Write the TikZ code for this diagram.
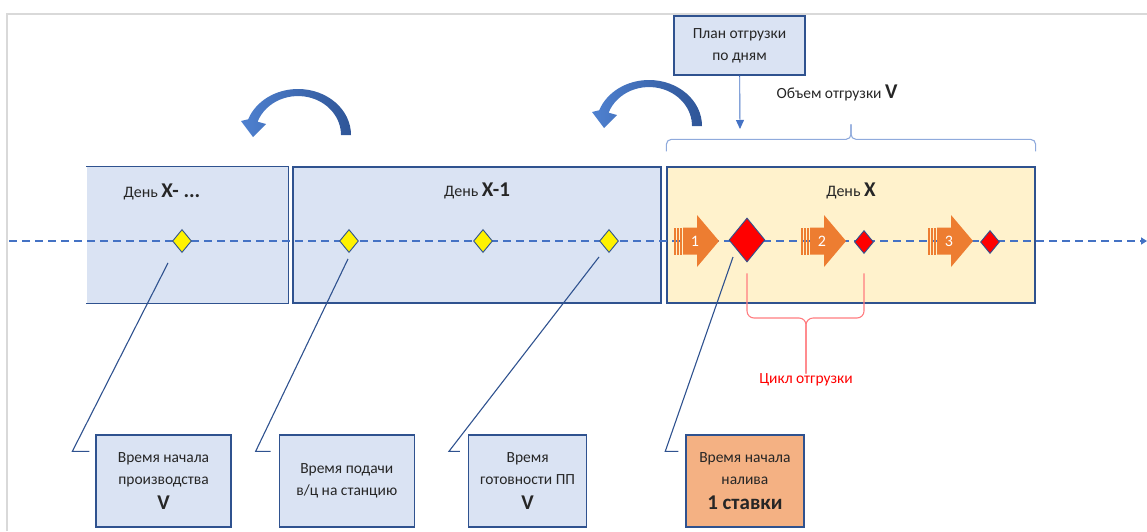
\documentclass[tikz,border=0pt]{standalone}
\usepackage{fontspec}
\setmainfont{Carlito}
\usepackage{xcolor}
\usetikzlibrary{arrows.meta,positioning,calc,shapes.geometric}

\definecolor{boxblue}{HTML}{DAE3F3}
\definecolor{boxline}{HTML}{2F528F}
\definecolor{dayyellow}{HTML}{FFF2CC}
\definecolor{pourorange}{HTML}{F4B183}
\definecolor{steporange}{HTML}{ED7D31}
\definecolor{lineblue}{HTML}{4472C4}
\definecolor{bracelight}{HTML}{8FAADC}
\definecolor{bracered}{HTML}{FF7C80}
\definecolor{turnlight}{HTML}{4F81D0}
\definecolor{turndark}{HTML}{2F5597}
\definecolor{framegray}{HTML}{D9D9D9}

\newcommand{\notefont}{\fontsize{15.5}{22}\selectfont}
\newcommand{\bv}[1]{{\fontsize{21}{24}\selectfont\bfseries #1}}

\tikzset{%
  % boxes
  card/.style={draw=boxline, line width=1.3pt, align=center, inner sep=4pt, font=\notefont, text=black!85},
  day/.style={card, fill=boxblue, minimum height=136pt},
  note/.style={card, fill=boxblue, minimum height=92pt},
  title/.style={font=\fontsize{16}{19}\selectfont, text=black!85, inner sep=0pt},
  lbl/.style={font=\notefont, text=black!85, inner sep=0pt},
  daysides/.style={draw=boxline, line width=1.3pt},
  % marks on the time line
  ymark/.style={diamond, draw=boxline, line width=0.9pt, fill=yellow, minimum width=19pt, minimum height=23pt, inner sep=0pt},
  rmark/.style={ymark, fill=red},
  stepnum/.style={font=\fontsize{16}{19}\selectfont, text=white, inner sep=0pt},
  turnfill/.style={left color=turnlight, right color=turndark},
  % edge styles
  timeline/.style={draw=lineblue, line width=2.2pt, dash pattern=on 8pt off 5pt, -{Triangle[length=6pt,width=7pt]}},
  callout/.style={draw=boxline, line width=1.1pt},
  planarrow/.style={draw=lineblue, line width=0.9pt, -{Triangle[length=9pt,width=8pt]}},
  topbrace/.style={draw=bracelight, line width=1.1pt, rounded corners=5pt},
  cyclebrace/.style={draw=bracered, line width=1.1pt, rounded corners=7pt},
}

\newcommand{\pourstep}[3]{%
  % #1 = tail point, #2 = node name, #3 = number
  \fill[steporange] ([shift={(0,-13.5)}]#1) -- ++(14,0) -- ++(0,-12.5) -- ++(22,26) -- ++(-22,26) -- ++(0,-12.5) -- ++(-14,0) -- cycle;
  \fill[steporange] ([shift={(-9,-13.5)}]#1) rectangle ++(1.6,27);
  \fill[steporange] ([shift={(-6,-13.5)}]#1) rectangle ++(1.6,27);
  \fill[steporange] ([shift={(-3,-13.5)}]#1) rectangle ++(1.6,27);
  \node[stepnum] (#2) at ([shift={(12,0)}]#1) {#3};
}
\newcommand{\turnback}[1]{%
  % #1 = centre of the arc
  \shade[turnfill] ([shift={(53,0)}]#1) arc[start angle=0, end angle=-160, x radius=53, y radius=46]
    -- ([shift={(-57,-14)}]#1) -- ([shift={(-45,2)}]#1) -- ([shift={(-32,-11)}]#1)
    -- ([shift={(-40.4,-13.3)}]#1) arc[start angle=-160, end angle=0, x radius=43, y radius=39] -- cycle;
}

\begin{document}
\begin{tikzpicture}[x=1pt, y=-1pt]
  \useasboundingbox (0,0) rectangle (1147,531);
  \draw[framegray, line width=2pt] (7,531) -- (7,14) -- (1147,14);

  \node[day, draw=none, minimum width=201pt] (dxm) at (187.5,235) {};
  \draw[daysides] (dxm.north west) -- (dxm.north east) -- (dxm.south east) -- (dxm.south west);
  \node[day, minimum width=368pt] (dx1) at (477,235) {};
  \node[day, fill=dayyellow, minimum width=368pt] (dx) at (851,235) {};

  \node[title] (dxmt) at (162,192) {День \bv{X- ...}};
  \node[title] (dx1t) at ([yshift=-25pt]dx1.north) {День \bv{X-1}};
  \node[title] (dxt) at ([yshift=-25pt]dx.north) {День \bv{X}};

  \coordinate (tstart) at (9,241);
  \coordinate (tend) at (1147,241);
  \draw[timeline] (tstart) -- (tend);

  \pourstep{683,241}{s1}{1}
  \pourstep{810,241}{s2}{2}
  \pourstep{937,241}{s3}{3}

  \node[ymark] (d1) at (182,241) {};
  \node[ymark] (d2) at (349,241) {};
  \node[ymark] (d3) at (483,241) {};
  \node[ymark] (d4) at (609,241) {};
  \node[rmark, minimum width=36pt, minimum height=44pt] (rd1) at (747,240) {};
  \node[rmark] (rd2) at (864,242) {};
  \node[rmark] (rd3) at (990,242) {};

  \node[note, minimum width=135pt] (prod) at (163.5,481) {Время начала\\производства\\[3pt]\bv{V}};
  \node[note, minimum width=135pt, right=47pt of prod] (feed) {Время подачи\\в/ц на станцию};
  \node[note, minimum width=118pt, right=53pt of feed] (ready) {Время\\готовности ПП\\[3pt]\bv{V}};
  \node[note, minimum width=118pt, fill=pourorange, right=98pt of ready] (pour) {Время начала\\налива\\[3pt]\bv{1 ставки}};

  \draw[callout] ([shift={(-14,10)}]d1.south) -- ([shift={(-23,17)}]prod.north west) -- ([shift={(-6,17)}]prod.north west);
  \draw[callout] ([shift={(-1,6)}]d2.south) -- ([shift={(-23,17)}]feed.north west) -- ([shift={(-8,17)}]feed.north west);
  \draw[callout] ([shift={(-10,4)}]d4.south) -- ([shift={(-19,17)}]ready.north west) -- ([shift={(-8,17)}]ready.north west);
  \draw[callout] ([shift={(-14,17)}]rd1.center) -- ([shift={(-20,17)}]pour.north west) -- ([shift={(-7,17)}]pour.north west);

  \node[card, fill=boxblue, minimum width=131pt, minimum height=59pt] (plan) at (739.5,45.5) {План отгрузки\\по дням};
  \coordinate (planend) at (740,129);
  \draw[planarrow] (plan) -- (planend);

  \node[lbl] (vol) at (837,93) {Объем отгрузки \bv{V}};
  \coordinate (btip) at ([yshift=27pt]dx.north);
  \draw[topbrace] ([yshift=15pt]dx.north west) |- (btip) -- ++(0,-15);
  \draw[topbrace] ([yshift=15pt]dx.north east) |- (btip) -- ++(0,-15);

  \node[lbl, text=red] (cyc) at (806,380) {Цикл отгрузки};
  \coordinate (cl) at ([yshift=-11pt]rd1.south);
  \coordinate (cmid) at (806,318);
  \draw[cyclebrace] (cl) |- (cmid) -- (cyc.north);
  \draw[cyclebrace] (cl -| rd2) |- (cmid) -- (cyc.north);

  \turnback{298,135}
  \turnback{649,126}
\end{tikzpicture}
\end{document}
